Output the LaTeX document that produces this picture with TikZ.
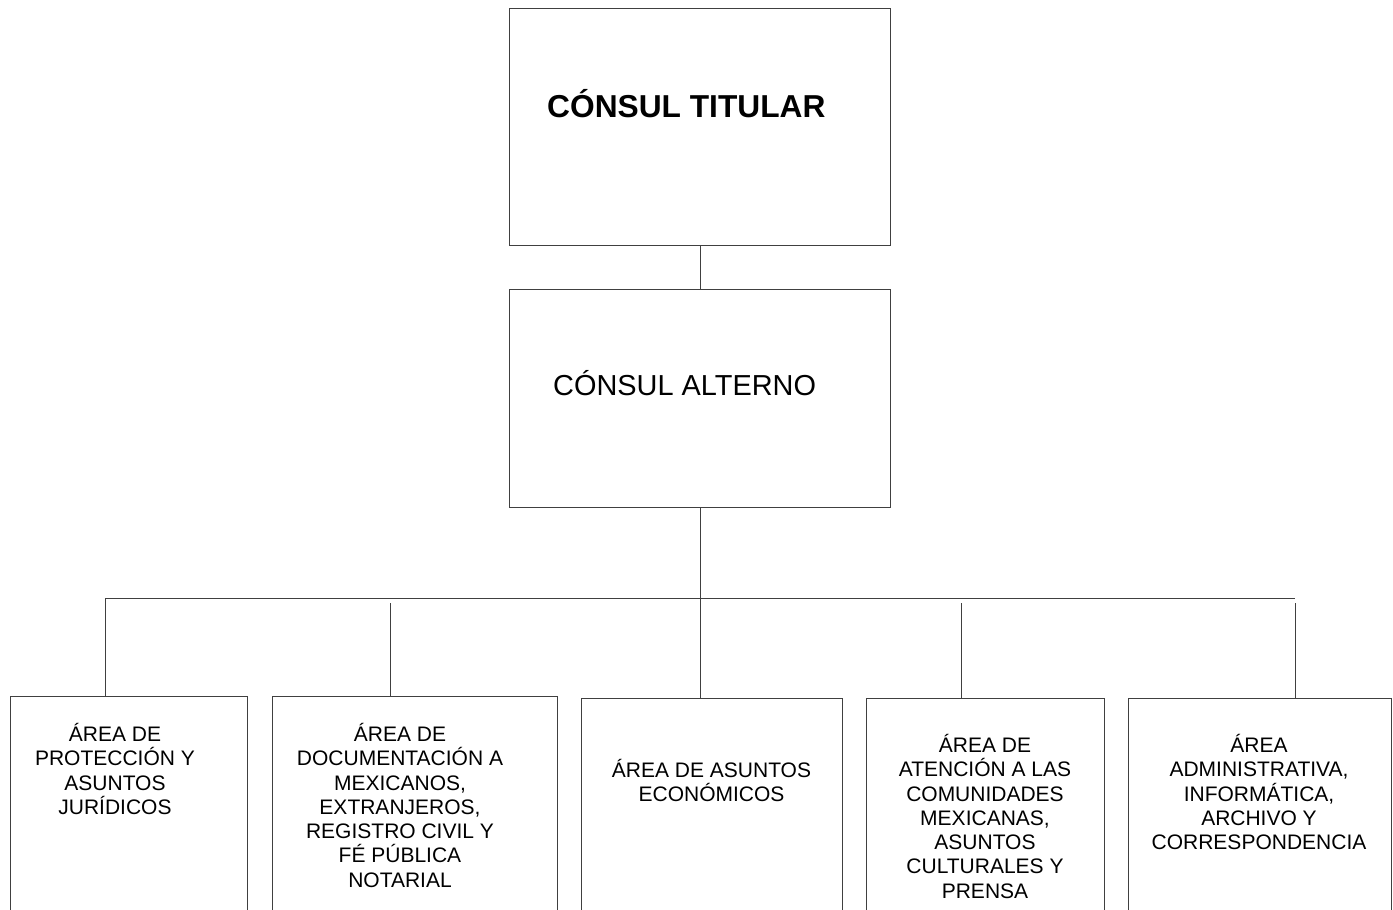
\documentclass[tikz,border=0pt]{standalone}
\usepackage{fontspec}
\setmainfont{Liberation Sans}
\usetikzlibrary{calc}

\begin{document}
\begin{tikzpicture}[x=1pt, y=-1pt,
  caja/.style={draw=black!75, line width=1pt, inner sep=0pt, anchor=north west},
  area/.style={inner sep=0pt, anchor=north, align=center, font=\fontsize{21}{24.3}\selectfont},
  linea/.style={draw=black!75, line width=1pt}]
  \useasboundingbox (0,0) rectangle (1393,910);
  \clip (0,0) rectangle (1393,910);
  % Nodes
  \node[caja, minimum width=381pt, minimum height=237pt](T) at (509,8){};
  \node[anchor=base west, inner sep=0pt, font=\fontsize{31.7}{36}\selectfont\bfseries](Tt) at (547,117){CÓNSUL TITULAR};
  \node[caja, minimum width=381pt, minimum height=218pt](Alt) at (509,289){};
  \node[anchor=base west, inner sep=0pt, font=\fontsize{28.9}{33}\selectfont](Altt) at (553,395){CÓNSUL ALTERNO};
  \node[caja, minimum width=237pt, minimum height=240pt](A1) at (10,696){};
  \node[caja, minimum width=285pt, minimum height=240pt](A2) at (272,696){};
  \node[caja, minimum width=261pt, minimum height=240pt](A3) at (581,698){};
  \node[caja, minimum width=238pt, minimum height=240pt](A4) at (866,698){};
  \node[caja, minimum width=263pt, minimum height=240pt](A5) at (1128,698){};
  \node[area](A1t) at (115,723){ÁREA DE\\PROTECCIÓN Y\\ASUNTOS\\JURÍDICOS};
  \node[area](A2t) at (400,723){ÁREA DE\\DOCUMENTACIÓN A\\MEXICANOS,\\EXTRANJEROS,\\REGISTRO CIVIL Y\\FÉ PÚBLICA\\NOTARIAL};
  \node[area](A3t) at (711.5,759){ÁREA DE ASUNTOS\\ECONÓMICOS};
  \node[area](A4t) at (985,734){ÁREA DE\\ATENCIÓN A LAS\\COMUNIDADES\\MEXICANAS,\\ASUNTOS\\CULTURALES Y\\PRENSA};
  \node[area](A5t) at (1259,734){ÁREA\\ADMINISTRATIVA,\\INFORMÁTICA,\\ARCHIVO Y\\CORRESPONDENCIA};
  % Edges
  \coordinate (b1) at (105,598);
  \coordinate (bR) at (1295,598);
  \coordinate (b2) at (390,603);
  \coordinate (b4) at (961,603);
  \coordinate (b5) at (1295,603);
  \draw[linea] (T.south) -- (Alt.north);
  \draw[linea] (Alt.south) -- (Alt.south |- A3.north);
  \draw[linea] (b1) -- (bR);
  \draw[linea] (b1) -- (b1 |- A1.north);
  \draw[linea] (b2) -- (b2 |- A2.north);
  \draw[linea] (b4) -- (b4 |- A4.north);
  \draw[linea] (b5) -- (b5 |- A5.north);
\end{tikzpicture}
\end{document}
